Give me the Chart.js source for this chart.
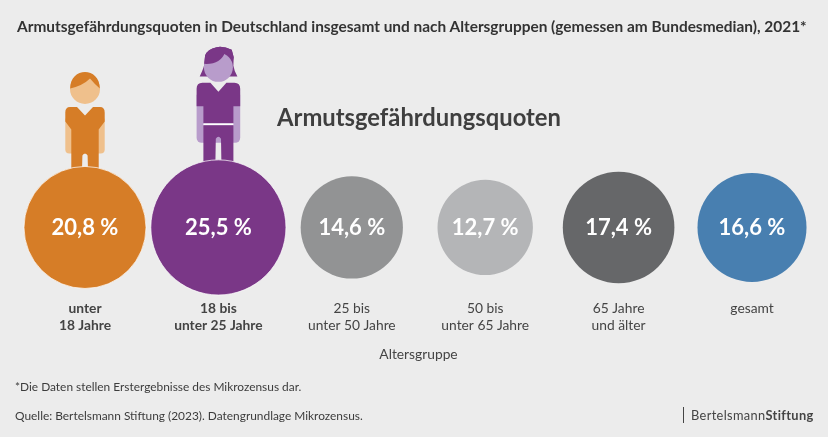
<!DOCTYPE html>
<html lang="de">
<head>
<meta charset="utf-8">
<title>Armutsgefährdungsquoten</title>
<script src="https://cdn.jsdelivr.net/npm/chart.js@4"></script>
<style>
    html, body { margin: 0; padding: 0; background: #ececec; }
    #wrap { position: relative; width: 828px; height: 437px; overflow: hidden; font-family: Lato, sans-serif; color: #333; }
    #chart { position: absolute; left: 0; top: 0; }
    .txt { position: absolute; white-space: nowrap; }
    #title { left: 17px; top: 17px; font-size: 15.43px; font-weight: 700; color: #333; }
    #heading { left: 277px; top: 103px; font-size: 23.8px; font-weight: 700; color: #3f3f3f; }
    #note { left: 15px; top: 379px; font-size: 11.9px; color: #3c3c3c; }
    #source { left: 15px; top: 408px; font-size: 11.9px; color: #3c3c3c; }
    #logo { left: 683px; top: 407px; height: 16px; line-height: 16px; border-left: 1px solid #444; padding-left: 7px; font-size: 12.8px; letter-spacing: 0.35px; color: #444; }
    #logo b { font-weight: 700; }
</style>
</head>
<body>
<div id="wrap">
    <canvas id="chart" width="828" height="437"></canvas>
    <div class="txt" id="title">Armutsgefährdungsquoten in Deutschland insgesamt und nach Altersgruppen (gemessen am Bundesmedian), 2021*</div>
    <div class="txt" id="heading">Armutsgefährdungsquoten</div>
    <div class="txt" id="note">*Die Daten stellen Erstergebnisse des Mikrozensus dar.</div>
    <div class="txt" id="source">Quelle: Bertelsmann Stiftung (2023). Datengrundlage Mikrozensus.</div>
    <div class="txt" id="logo">Bertelsmann<b>Stiftung</b></div>
</div>
<script>
const ageGroups = [
    ['unter', '18 Jahre'],
    ['18 bis', 'unter 25 Jahre'],
    ['25 bis', 'unter 50 Jahre'],
    ['50 bis', 'unter 65 Jahre'],
    ['65 Jahre', 'und älter'],
    ['gesamt']
];
const rates = [20.8, 25.5, 14.6, 12.7, 17.4, 16.6];
const colors = ['#d67d27', '#7a3787', '#929394', '#b4b5b7', '#666769', '#487fb0'];

// bubble area is proportional to the rate
const areaPerPercent = 179;
const bubbleRadius = v => Math.sqrt(v * areaPerPercent);
const formatRate = v => v.toFixed(1).replace('.', ',') + ' %';

function roundedRect(ctx, x, y, w, h, radii) {
    ctx.beginPath();
    ctx.roundRect(x, y, w, h, radii);
    ctx.fill();
}

// Boy standing on the first bubble, coordinates relative to centre / bubble top
function drawBoy(ctx, cx, top) {
    ctx.save();
    ctx.translate(cx, top);
    // arms
    ctx.fillStyle = '#efc08c';
    roundedRect(ctx, -19.7, -48, 39.4, 35, [0, 0, 4, 4]);
    // head
    ctx.beginPath();
    ctx.arc(0, -77.5, 15, 0, Math.PI * 2);
    ctx.fill();
    // hair
    ctx.fillStyle = '#d67d27';
    ctx.beginPath();
    ctx.moveTo(-14.8, -78);
    ctx.bezierCurveTo(-15, -100, 15, -100, 14.8, -78);
    ctx.quadraticCurveTo(10, -82, 5, -88);
    ctx.quadraticCurveTo(-2, -81, -14.8, -78);
    ctx.fill();
    // shirt and trousers
    ctx.beginPath();
    ctx.moveTo(-15, -59.5);
    ctx.lineTo(-8, -59.5);
    ctx.lineTo(0, -51);
    ctx.lineTo(8, -59.5);
    ctx.lineTo(15, -59.5);
    ctx.quadraticCurveTo(19.7, -59.5, 19.7, -54);
    ctx.lineTo(19.7, -45);
    ctx.lineTo(13.7, -37);
    ctx.lineTo(13.7, 3);
    ctx.lineTo(3, 3);
    ctx.lineTo(2.6, -11);
    ctx.quadraticCurveTo(0, -15, -2.6, -11);
    ctx.lineTo(-3, 3);
    ctx.lineTo(-13.7, 3);
    ctx.lineTo(-13.7, -37);
    ctx.lineTo(-19.7, -45);
    ctx.lineTo(-19.7, -54);
    ctx.quadraticCurveTo(-19.7, -59.5, -15, -59.5);
    ctx.fill();
    ctx.restore();
}

// Girl standing on the second bubble
function drawGirl(ctx, cx, top) {
    ctx.save();
    ctx.translate(cx, top);
    // arms
    ctx.fillStyle = '#b89ccb';
    roundedRect(ctx, -21.8, -65, 43.6, 48, [0, 0, 5, 5]);
    // hair behind the face
    ctx.fillStyle = '#7a3787';
    ctx.beginPath();
    ctx.moveTo(-18.7, -83.3);
    ctx.quadraticCurveTo(-14.5, -92, -14, -96);
    ctx.lineTo(-13.3, -104.3);
    ctx.quadraticCurveTo(-11, -111, -1.7, -112.7);
    ctx.quadraticCurveTo(5, -114, 13.3, -110);
    ctx.lineTo(15.3, -102.7);
    ctx.lineTo(15, -94);
    ctx.quadraticCurveTo(16, -88, 19, -83.3);
    ctx.closePath();
    ctx.fill();
    // face
    ctx.fillStyle = '#b89ccb';
    ctx.beginPath();
    ctx.arc(0, -92.5, 14.5, 0, Math.PI * 2);
    ctx.fill();
    // fringe
    ctx.fillStyle = '#7a3787';
    ctx.beginPath();
    ctx.moveTo(-14.3, -96);
    ctx.quadraticCurveTo(2, -95, 6.7, -107.7);
    ctx.quadraticCurveTo(12, -105, 14.5, -99);
    ctx.lineTo(15.3, -102.7);
    ctx.lineTo(13.3, -110);
    ctx.quadraticCurveTo(5, -114, -1.7, -112.7);
    ctx.quadraticCurveTo(-11, -111, -13.3, -104.3);
    ctx.closePath();
    ctx.fill();
    // shirt
    ctx.beginPath();
    ctx.moveTo(-16, -77);
    ctx.lineTo(-8, -77);
    ctx.lineTo(0, -68);
    ctx.lineTo(8, -77);
    ctx.lineTo(16, -77);
    ctx.quadraticCurveTo(21.8, -77, 21.8, -71);
    ctx.lineTo(21.8, -53.5);
    ctx.lineTo(15, -53.5);
    ctx.lineTo(15, -36.5);
    ctx.lineTo(-15, -36.5);
    ctx.lineTo(-15, -53.5);
    ctx.lineTo(-21.8, -53.5);
    ctx.lineTo(-21.8, -71);
    ctx.quadraticCurveTo(-21.8, -77, -16, -77);
    ctx.fill();
    // belt
    ctx.fillStyle = '#ffffff';
    ctx.fillRect(-15, -36.5, 30, 2);
    // trousers
    ctx.fillStyle = '#7a3787';
    ctx.beginPath();
    ctx.moveTo(-15, -34.5);
    ctx.lineTo(15, -34.5);
    ctx.lineTo(15, 3);
    ctx.lineTo(3, 3);
    ctx.lineTo(2.6, -21);
    ctx.quadraticCurveTo(0, -25, -2.6, -21);
    ctx.lineTo(-3, 3);
    ctx.lineTo(-15, 3);
    ctx.closePath();
    ctx.fill();
    ctx.restore();
}

const figurePlugin = {
    id: 'figures',
    beforeDatasetsDraw(chart) {
        const points = chart.getDatasetMeta(0).data;
        drawBoy(chart.ctx, points[0].x, points[0].y - points[0].options.radius);
        drawGirl(chart.ctx, points[1].x, points[1].y - points[1].options.radius);
    }
};

const rateLabelPlugin = {
    id: 'rateLabels',
    afterDatasetsDraw(chart) {
        const ctx = chart.ctx;
        ctx.save();
        ctx.font = '700 22px Lato';
        ctx.fillStyle = '#ffffff';
        ctx.textAlign = 'center';
        ctx.textBaseline = 'middle';
        chart.getDatasetMeta(0).data.forEach((point, i) => {
            ctx.fillText(formatRate(rates[i]), point.x, point.y);
        });
        ctx.restore();
    }
};

const chart = new Chart(document.getElementById('chart').getContext('2d'), {
    type: 'bubble',
    data: {
        datasets: [{
            label: 'Armutsgefährdungsquote',
            data: rates.map((v, i) => ({ x: i, y: 0, v: v })),
            backgroundColor: colors,
            hoverBackgroundColor: colors,
            borderColor: ['rgba(255,255,255,0.7)', 'rgba(255,255,255,0.7)', 'rgba(0,0,0,0)', 'rgba(0,0,0,0)', 'rgba(0,0,0,0)', 'rgba(0,0,0,0)'],
            borderWidth: 1,
            radius: ctx => bubbleRadius(ctx.raw.v),
            clip: false
        }]
    },
    options: {
        responsive: false,
        animation: false,
        // bubbles would otherwise push the chart area in by their radius
        layout: { autoPadding: false, padding: { top: 162, bottom: 74, left: 85, right: 76 } },
        scales: {
            x: {
                type: 'linear',
                min: 0,
                max: 5,
                afterFit: axis => {
                    axis.paddingLeft = 0;
                    axis.paddingRight = 0;
                },
                ticks: {
                    stepSize: 1,
                    autoSkip: false,
                    maxRotation: 0,
                    padding: 0,
                    color: ['#444'],
                    font: ctx => ({ family: 'Lato', size: 13.8, lineHeight: 1.18, weight: ctx.tick && ctx.tick.value < 2 ? '700' : '400' }),
                    callback: value => ageGroups[value]
                },
                grid: { display: false },
                border: { display: false },
                title: {
                    display: true,
                    text: 'Altersgruppe',
                    color: '#444',
                    font: { family: 'Lato', size: 13.8 },
                    padding: { top: 13, bottom: 0 }
                }
            },
            y: { display: false, min: -1, max: 1 }
        },
        plugins: {
            legend: { display: false },
            tooltip: { enabled: false }
        }
    },
    plugins: [figurePlugin, rateLabelPlugin]
});
</script>
</body>
</html>
